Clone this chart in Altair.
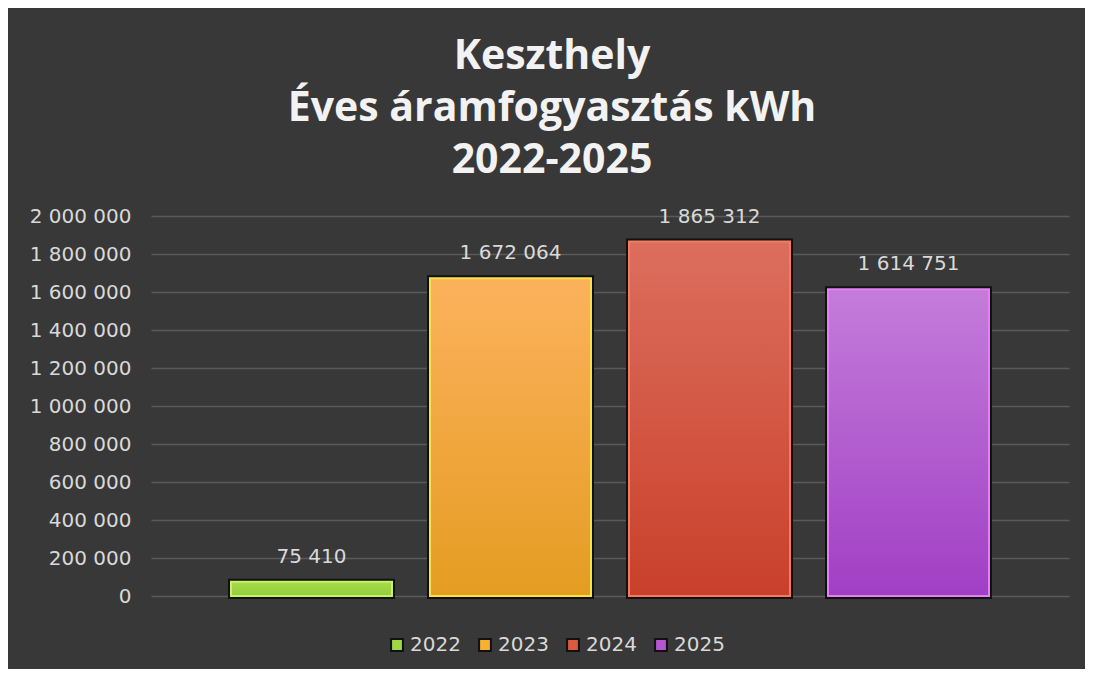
import altair as alt
import pandas as pd

years = ["2022", "2023", "2024", "2025"]
values = [75410, 1672064, 1865312, 1614751]
y_ticks = [0, 200000, 400000, 600000, 800000, 1000000, 1200000, 1400000, 1600000, 1800000, 2000000]

legend_colors = ["#9fd843", "#f7b030", "#dc5a40", "#b556d0"]
top_colors = ["#a6dc4c", "#fcb25c", "#dc6e5e", "#c47cda"]
bottom_colors = ["#94cc3c", "#e59c22", "#c9402a", "#a13fc4"]
rim_colors = ["#c8f068", "#f8e24a", "#f47a62", "#e480f6"]

df = pd.DataFrame({"year": years, "value": values})

FONT = "DejaVu Sans"
LABEL = "#d9d9d9"

xenc = alt.X("year:N", sort=years,
             scale=alt.Scale(paddingInner=0.191, paddingOuter=0.402),
             axis=None)
yenc = alt.Y("value:Q",
             scale=alt.Scale(domain=[0, 2000000], nice=False),
             axis=alt.Axis(values=y_ticks, title=None, domain=False, ticks=False,
                           labelFontSize=20, labelColor=LABEL, labelFont=FONT,
                           labelPadding=20, gridColor="#5a5a5a", gridWidth=1.5,
                           labelOverlap=False, format=",d"))

base = alt.Chart(df)

outline = base.mark_bar(stroke="#111111", strokeWidth=6).encode(
    x=xenc, y=yenc,
    color=alt.Color("year:N", sort=years,
                    scale=alt.Scale(domain=years, range=legend_colors),
                    legend=alt.Legend(orient="none", legendX=236, legendY=419,
                                      title=None, direction="horizontal",
                                      labelFontSize=20, labelColor=LABEL, labelFont=FONT,
                                      symbolType="square", symbolSize=140,
                                      symbolStrokeColor="#111111", symbolStrokeWidth=2,
                                      symbolOpacity=1, columnPadding=14, labelOffset=3,
                                      symbolOffset=0)),
)

layers = [outline]
for i, yr in enumerate(years):
    grad = alt.LinearGradient(
        gradient="linear", x1=0, y1=0, x2=0, y2=1,
        stops=[alt.GradientStop(color=top_colors[i], offset=0),
               alt.GradientStop(color=bottom_colors[i], offset=1)])
    layers.append(
        base.transform_filter(alt.datum.year == yr)
        .mark_bar(fill=grad, stroke=rim_colors[i], strokeWidth=2)
        .encode(x=xenc, y=yenc)
    )

text = base.mark_text(dy=-25, fontSize=20, color=LABEL, font=FONT).encode(
    x=xenc, y=yenc,
    text=alt.Text("value:Q", format=",d"),
)
layers.append(text)

chart = alt.layer(*layers).properties(
    width=918,
    height=380,
    title=alt.TitleParams(
        text=["Keszthely", "Éves áramfogyasztás kWh", "2022-2025"],
        fontSize=41, font="Open Sans", fontWeight="bold", color="#f2f2f2",
        lineHeight=52, anchor="middle", offset=24, dx=-58,
    ),
    autosize=alt.AutoSizeParams(type="none"),
    padding={"left": 143, "top": 208, "right": 16, "bottom": 73},
    background="#383838",
).configure(
    locale={"number": {"decimal": ",", "thousands": " ", "grouping": [3], "currency": ["", " Ft"]}},
).configure_view(stroke=None)

chart.save("out.html", embed_options={"renderer": "svg", "actions": False})
